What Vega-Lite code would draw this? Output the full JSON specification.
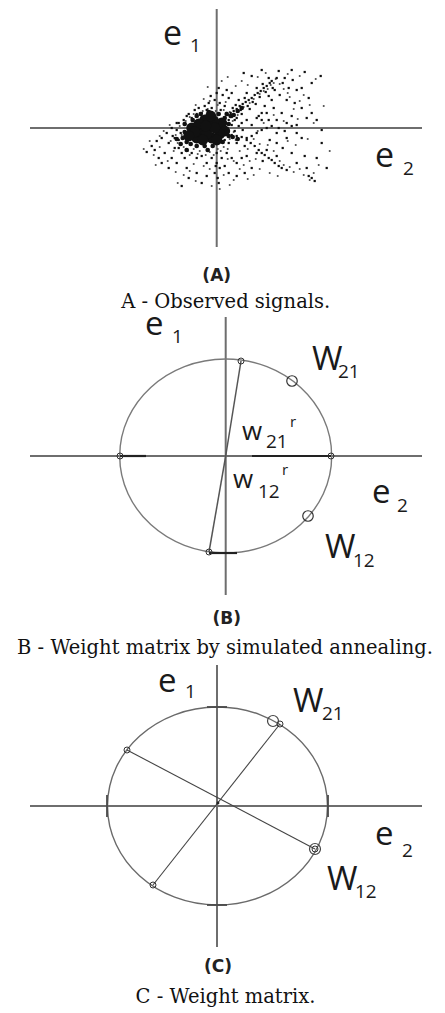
{
  "$schema": "https://vega.github.io/schema/vega-lite/v6.json",
  "padding": 0,
  "spacing": 0,
  "bounds": "flush",
  "config": {"view": {"stroke": null}, "concat": {"spacing": 0}},
  "resolve": {"scale": {"x": "independent", "y": "independent"}},
  "vconcat": [
    {
      "width": 445, "height": 320,
      "encoding": {
        "x": {"field": "u", "type": "quantitative", "scale": {"domain": [-2.167, 2.283], "nice": false, "zero": false}, "axis": null},
        "y": {"field": "v", "type": "quantitative", "scale": {"domain": [-1.92, 1.28], "nice": false, "zero": false}, "axis": null}
      },
      "layer": [
        {
          "data": {"values": [
            {"u": 0, "v": 1.19, "u2": 0, "v2": -1.19},
            {"u": -1.867, "v": 0, "u2": 2.053, "v2": 0}
          ]},
          "mark": {"type": "rule", "color": "#6e6e6e", "strokeWidth": 2},
          "encoding": {"x2": {"field": "u2"}, "y2": {"field": "v2"}}
        },
        {
          "data": {"values": [
            {"u": -0.37, "v": 0.02}, {"u": -0.41, "v": -0.07}, {"u": -0.46, "v": -0.13}, {"u": -0.33, "v": -0.19}, {"u": -0.29, "v": -0.23},
            {"u": -0.23, "v": -0.21}, {"u": -0.17, "v": -0.23}, {"u": -0.07, "v": -0.24}, {"u": 0.01, "v": -0.21}, {"u": 0.07, "v": -0.19},
            {"u": 0.13, "v": -0.11}, {"u": 0.17, "v": -0.04}, {"u": 0.16, "v": 0.07}, {"u": 0.13, "v": 0.16}, {"u": 0.07, "v": 0.18},
            {"u": -0.01, "v": 0.17}, {"u": -0.09, "v": 0.19}, {"u": -0.14, "v": 0.17}, {"u": -0.23, "v": 0.14}, {"u": -0.27, "v": 0.11},
            {"u": -0.31, "v": 0.07}, {"u": -0.35, "v": -0.07}, {"u": -0.39, "v": -0.15}, {"u": -0.43, "v": -0.23}, {"u": -0.27, "v": -0.27},
            {"u": -0.19, "v": -0.26}, {"u": -0.11, "v": -0.27}, {"u": -0.03, "v": -0.27}, {"u": 0.04, "v": -0.23}, {"u": 0.11, "v": -0.21},
            {"u": 0.19, "v": -0.12}, {"u": 0.21, "v": 0.13}, {"u": 0.09, "v": 0.26}, {"u": 0.01, "v": 0.23}, {"u": -0.07, "v": 0.27},
            {"u": -0.13, "v": 0.29}, {"u": -0.21, "v": 0.23}, {"u": 0.27, "v": 0.21}, {"u": 0.33, "v": 0.25}, {"u": 0.37, "v": 0.29},
            {"u": 0.43, "v": 0.34}, {"u": 0.47, "v": 0.37}, {"u": 0.51, "v": 0.39}, {"u": 0.54, "v": 0.43}, {"u": 0.57, "v": 0.45},
            {"u": 0.59, "v": 0.49}, {"u": 0.63, "v": 0.44}, {"u": 0.67, "v": 0.39}, {"u": 0.71, "v": 0.35}, {"u": 0.73, "v": 0.31},
            {"u": 0.77, "v": 0.19}, {"u": 0.83, "v": 0.27}, {"u": 0.87, "v": 0.33}, {"u": 0.93, "v": 0.23}, {"u": 0.97, "v": 0.05},
            {"u": 0.81, "v": 0.09}, {"u": 0.67, "v": 0.07}, {"u": 0.57, "v": 0.13}, {"u": 0.47, "v": 0.05}, {"u": 0.41, "v": -0.03},
            {"u": 0.37, "v": -0.11}, {"u": 0.43, "v": -0.16}, {"u": 0.51, "v": -0.17}, {"u": 0.57, "v": -0.23}, {"u": 0.63, "v": -0.33},
            {"u": 0.67, "v": -0.37}, {"u": 0.73, "v": -0.39}, {"u": 0.77, "v": -0.44}, {"u": 0.83, "v": -0.41}, {"u": 0.87, "v": -0.47},
            {"u": 0.93, "v": -0.52}, {"u": 0.97, "v": -0.45}, {"u": 1.02, "v": -0.37}, {"u": 0.79, "v": -0.17}, {"u": 0.71, "v": -0.13},
            {"u": 0.91, "v": -0.11}, {"u": 0.31, "v": -0.21}, {"u": 0.23, "v": -0.23}, {"u": 0.17, "v": -0.33}, {"u": 0.11, "v": -0.31},
            {"u": 0.27, "v": -0.37}, {"u": 0.33, "v": -0.33}, {"u": 0.39, "v": -0.31}, {"u": 0.43, "v": -0.41}, {"u": 0.37, "v": -0.47},
            {"u": 0.23, "v": -0.41}, {"u": 0.17, "v": -0.52}, {"u": 0.07, "v": -0.47}, {"u": -0.07, "v": -0.41}, {"u": -0.13, "v": -0.38},
            {"u": -0.23, "v": -0.36}, {"u": -0.27, "v": -0.43}, {"u": -0.33, "v": -0.47}, {"u": -0.41, "v": -0.44}, {"u": -0.49, "v": -0.33},
            {"u": -0.57, "v": -0.19}, {"u": -0.63, "v": -0.27}, {"u": -0.67, "v": -0.13}, {"u": -0.53, "v": -0.03}, {"u": -0.47, "v": 0.03},
            {"u": -0.57, "v": -0.08}, {"u": -0.73, "v": -0.21}, {"u": -0.61, "v": -0.37}, {"u": -0.39, "v": -0.55}, {"u": -0.21, "v": -0.53},
            {"u": -0.05, "v": -0.58}, {"u": 0.03, "v": -0.61}, {"u": 0.13, "v": -0.57}, {"u": 0.31, "v": -0.51}, {"u": -0.09, "v": 0.41},
            {"u": 0.05, "v": 0.47}, {"u": 0.19, "v": 0.42}, {"u": 0.25, "v": 0.47}, {"u": 0.11, "v": 0.51}, {"u": 0.31, "v": 0.43},
            {"u": 0.41, "v": 0.51}, {"u": 0.49, "v": 0.55}, {"u": 0.71, "v": 0.54}, {"u": 0.83, "v": 0.52}, {"u": 0.99, "v": 0.49},
            {"u": 1.07, "v": 0.22}, {"u": 1.13, "v": -0.23}, {"u": 0.53, "v": -0.45}, {"u": 0.61, "v": -0.48}
          ]},
          "mark": {"type": "point", "shape": "square", "filled": true, "size": 3, "color": "#444", "opacity": 1}
        },
        {
          "data": {"values": [
            {"u": 0.08, "v": 0.10}, {"u": 0.11, "v": 0.13}, {"u": 0.14, "v": 0.15}, {"u": 0.17, "v": 0.17}, {"u": 0.20, "v": 0.19},
            {"u": 0.23, "v": 0.22}, {"u": 0.26, "v": 0.24}, {"u": 0.29, "v": 0.26}, {"u": 0.32, "v": 0.28}, {"u": 0.35, "v": 0.30},
            {"u": 0.38, "v": 0.33}, {"u": 0.41, "v": 0.35}, {"u": 0.44, "v": 0.37}, {"u": 0.47, "v": 0.40}, {"u": 0.50, "v": 0.42},
            {"u": 0.53, "v": 0.45}, {"u": 0.55, "v": 0.47}, {"u": 0.10, "v": 0.15}, {"u": 0.15, "v": 0.11}, {"u": 0.19, "v": 0.23},
            {"u": 0.24, "v": 0.18}, {"u": 0.28, "v": 0.30}, {"u": 0.31, "v": 0.22}, {"u": 0.36, "v": 0.26}, {"u": 0.40, "v": 0.40},
            {"u": 0.43, "v": 0.31}, {"u": 0.46, "v": 0.44}, {"u": 0.49, "v": 0.36}, {"u": 0.52, "v": 0.50}, {"u": 0.56, "v": 0.40},
            {"u": 0.30, "v": 0.35}, {"u": 0.22, "v": 0.28}, {"u": 0.18, "v": 0.08}, {"u": 0.25, "v": 0.14}, {"u": 0.33, "v": 0.19},
            {"u": 0.39, "v": 0.24}, {"u": 0.27, "v": 0.55}, {"u": 0.35, "v": 0.52}, {"u": 0.45, "v": 0.58}, {"u": 0.62, "v": 0.57},
            {"u": 0.75, "v": 0.58}, {"u": 0.88, "v": 0.56}, {"u": 1.04, "v": 0.52}, {"u": 0.60, "v": 0.50}, {"u": 0.66, "v": 0.45},
            {"u": 0.72, "v": 0.40}, {"u": 0.80, "v": 0.38}, {"u": 0.63, "v": 0.33}, {"u": 0.70, "v": 0.28}, {"u": 0.78, "v": 0.25},
            {"u": 0.85, "v": 0.20}, {"u": 0.90, "v": 0.10}, {"u": 0.95, "v": 0.15}, {"u": 0.57, "v": 0.20}, {"u": 0.50, "v": 0.15},
            {"u": 0.45, "v": 0.08}, {"u": 0.60, "v": 0.08}, {"u": 0.70, "v": 0.05}, {"u": 0.80, "v": 0.03}, {"u": 1.00, "v": 0.08},
            {"u": 1.05, "v": -0.02}, {"u": 0.92, "v": 0.30}, {"u": 0.55, "v": 0.28}, {"u": 0.48, "v": 0.22}, {"u": 0.42, "v": 0.12},
            {"u": 0.65, "v": 0.15}, {"u": 0.75, "v": 0.12}, {"u": 0.85, "v": 0.40}, {"u": 0.95, "v": 0.45}, {"u": 0.68, "v": 0.50},
            {"u": 0.76, "v": 0.48}, {"u": 0.58, "v": 0.38}, {"u": 0.52, "v": 0.32}, {"u": -0.05, "v": 0.20}, {"u": -0.02, "v": 0.28},
            {"u": 0.00, "v": 0.35}, {"u": 0.03, "v": 0.25}, {"u": -0.10, "v": 0.18}, {"u": -0.15, "v": 0.15}, {"u": -0.20, "v": 0.14},
            {"u": -0.08, "v": 0.25}, {"u": 0.02, "v": 0.40}, {"u": 0.06, "v": 0.33}, {"u": -0.03, "v": 0.12}, {"u": -0.12, "v": 0.22},
            {"u": -0.25, "v": 0.10}, {"u": -0.18, "v": 0.20}, {"u": 0.04, "v": 0.18}, {"u": 0.08, "v": 0.22}, {"u": 0.12, "v": 0.30},
            {"u": 0.10, "v": 0.38}, {"u": 0.15, "v": 0.35}, {"u": -0.06, "v": 0.32}, {"u": -0.40, "v": 0.05}, {"u": -0.45, "v": 0.00},
            {"u": -0.50, "v": -0.05}, {"u": -0.55, "v": -0.10}, {"u": -0.60, "v": -0.13}, {"u": -0.65, "v": -0.18}, {"u": -0.48, "v": -0.15},
            {"u": -0.38, "v": -0.12}, {"u": -0.42, "v": -0.20}, {"u": -0.35, "v": -0.25}, {"u": -0.52, "v": -0.25}, {"u": -0.58, "v": -0.30},
            {"u": -0.45, "v": -0.30}, {"u": -0.38, "v": 0.05}, {"u": -0.33, "v": 0.08}, {"u": -0.30, "v": 0.12}, {"u": -0.36, "v": -0.05},
            {"u": -0.44, "v": -0.08}, {"u": -0.62, "v": -0.22}, {"u": -0.70, "v": -0.24}, {"u": -0.55, "v": -0.35}, {"u": -0.48, "v": -0.40},
            {"u": -0.40, "v": -0.35}, {"u": -0.32, "v": -0.30}, {"u": -0.30, "v": -0.40}, {"u": -0.25, "v": -0.25}, {"u": -0.20, "v": -0.30},
            {"u": -0.15, "v": -0.28}, {"u": -0.10, "v": -0.35}, {"u": -0.05, "v": -0.30}, {"u": 0.00, "v": -0.25}, {"u": 0.03, "v": -0.40},
            {"u": -0.02, "v": -0.45}, {"u": 0.02, "v": -0.55}, {"u": 0.05, "v": -0.30}, {"u": 0.10, "v": -0.25}, {"u": 0.15, "v": -0.30},
            {"u": 0.20, "v": -0.35}, {"u": 0.25, "v": -0.30}, {"u": 0.30, "v": -0.28}, {"u": 0.35, "v": -0.40}, {"u": -0.10, "v": -0.48},
            {"u": -0.20, "v": -0.45}, {"u": -0.28, "v": -0.50}, {"u": -0.35, "v": -0.58}, {"u": 0.12, "v": -0.45}, {"u": 0.20, "v": -0.48},
            {"u": 0.28, "v": -0.45}, {"u": -0.15, "v": -0.55}, {"u": 0.00, "v": -0.35}, {"u": 0.01, "v": -0.50}, {"u": -0.01, "v": -0.38},
            {"u": 0.08, "v": -0.38}, {"u": 0.30, "v": -0.12}, {"u": 0.34, "v": -0.15}, {"u": 0.38, "v": -0.18}, {"u": 0.42, "v": -0.22},
            {"u": 0.45, "v": -0.25}, {"u": 0.48, "v": -0.27}, {"u": 0.52, "v": -0.30}, {"u": 0.55, "v": -0.32}, {"u": 0.58, "v": -0.35},
            {"u": 0.62, "v": -0.38}, {"u": 0.65, "v": -0.40}, {"u": 0.70, "v": -0.42}, {"u": 0.40, "v": -0.25}, {"u": 0.50, "v": -0.22},
            {"u": 0.60, "v": -0.28}, {"u": 0.46, "v": -0.33}, {"u": 0.95, "v": -0.50}, {"u": 0.98, "v": -0.53}, {"u": 0.92, "v": -0.48},
            {"u": 0.80, "v": -0.35}, {"u": 0.75, "v": -0.25}, {"u": 0.88, "v": -0.28}, {"u": 1.05, "v": -0.15}, {"u": 0.85, "v": -0.10},
            {"u": 0.70, "v": -0.10}, {"u": 0.60, "v": -0.05}, {"u": 1.00, "v": -0.30}, {"u": 1.10, "v": -0.40}, {"u": 0.90, "v": -0.40},
            {"u": 0.05, "v": -0.05}, {"u": 0.10, "v": -0.06}, {"u": 0.15, "v": -0.07}, {"u": 0.20, "v": -0.08}, {"u": 0.25, "v": -0.09},
            {"u": 0.30, "v": -0.10}, {"u": 0.35, "v": -0.08}, {"u": 0.40, "v": -0.05}, {"u": 0.45, "v": -0.02}, {"u": 0.50, "v": 0.00},
            {"u": 0.55, "v": 0.02}, {"u": 0.35, "v": 0.03}, {"u": 0.25, "v": 0.05}, {"u": 0.15, "v": 0.03}, {"u": 0.20, "v": -0.15},
            {"u": 0.28, "v": -0.18}, {"u": 0.12, "v": -0.15}, {"u": 0.08, "v": -0.12}, {"u": 0.40, "v": 0.10}, {"u": 0.30, "v": 0.08},
            {"u": 0.45, "v": 0.15}, {"u": 0.20, "v": 0.10}, {"u": 0.52, "v": 0.08}, {"u": 0.62, "v": 0.00}, {"u": 0.68, "v": -0.03},
            {"u": 0.75, "v": 0.02}, {"u": 0.80, "v": -0.05}, {"u": 0.60, "v": -0.15}, {"u": 0.53, "v": -0.12}, {"u": 0.66, "v": -0.20},
            {"u": 0.22, "v": 0.02}, {"u": 0.18, "v": -0.03}, {"u": 0.26, "v": -0.02}, {"u": 0.12, "v": 0.08}, {"u": 0.16, "v": 0.20},
            {"u": -0.40, "v": -0.02}, {"u": -0.42, "v": -0.10}, {"u": -0.38, "v": -0.20}, {"u": -0.28, "v": 0.14}, {"u": -0.22, "v": 0.18}
          ]},
          "mark": {"type": "point", "shape": "square", "filled": true, "size": 5, "color": "#111", "opacity": 1}
        },
        {
          "data": {"values": [
            {"u": -0.32, "v": -0.04}, {"u": -0.30, "v": -0.14}, {"u": -0.26, "v": -0.16}, {"u": -0.32, "v": 0.04}, {"u": -0.20, "v": 0.12},
            {"u": -0.16, "v": 0.14}, {"u": -0.08, "v": 0.16}, {"u": 0.02, "v": 0.14}, {"u": 0.08, "v": 0.10}, {"u": 0.12, "v": 0.04},
            {"u": 0.12, "v": -0.08}, {"u": 0.06, "v": -0.14}, {"u": -0.04, "v": -0.18}, {"u": -0.12, "v": -0.18}, {"u": -0.20, "v": -0.18},
            {"u": -0.34, "v": -0.10}, {"u": 0.10, "v": 0.14}, {"u": 0.14, "v": 0.12}, {"u": -0.36, "v": -0.16}, {"u": -0.24, "v": 0.08},
            {"u": 0.17, "v": 0.13}, {"u": 0.21, "v": 0.17}, {"u": 0.25, "v": 0.20}, {"u": 0.16, "v": -0.09}, {"u": 0.21, "v": -0.11},
            {"u": -0.40, "v": -0.11}, {"u": -0.30, "v": -0.22}, {"u": -0.09, "v": -0.22}
          ]},
          "mark": {"type": "point", "shape": "circle", "filled": true, "size": 22, "color": "#111", "opacity": 1}
        },
        {
          "data": {"values": [
            {"u": -0.08, "v": 0.00}, {"u": -0.15, "v": -0.05}, {"u": 0.00, "v": 0.02}, {"u": -0.20, "v": -0.10}, {"u": -0.05, "v": -0.10},
            {"u": -0.25, "v": 0.00}, {"u": 0.05, "v": 0.05}, {"u": -0.12, "v": 0.08}, {"u": 0.08, "v": -0.03}, {"u": -0.03, "v": 0.07},
            {"u": -0.18, "v": 0.04}, {"u": -0.10, "v": -0.06}, {"u": -0.22, "v": -0.04}, {"u": 0.03, "v": -0.06}, {"u": -0.14, "v": -0.12},
            {"u": -0.06, "v": 0.12}, {"u": -0.28, "v": -0.08}, {"u": 0.00, "v": -0.12}, {"u": -0.02, "v": 0.00}, {"u": -0.11, "v": 0.02}
          ]},
          "mark": {"type": "point", "shape": "circle", "filled": true, "size": 120, "color": "#111", "opacity": 1}
        },
        {
          "data": {"values": [{"u": -0.537, "v": 0.83, "t": "e"}, {"u": 1.583, "v": -0.39, "t": "e"}]},
          "mark": {"type": "text", "font": "Open Sans", "fontSize": 34, "align": "left", "baseline": "alphabetic", "color": "#1a1a1a"},
          "encoding": {"text": {"field": "t"}}
        },
        {
          "data": {"values": [{"u": -0.267, "v": 0.76, "t": "1"}, {"u": 1.863, "v": -0.47, "t": "2"}]},
          "mark": {"type": "text", "font": "Open Sans", "fontSize": 19, "align": "left", "baseline": "alphabetic", "color": "#1a1a1a"},
          "encoding": {"text": {"field": "t"}}
        },
        {
          "data": {"values": [{"u": 0.0, "v": -1.53, "t": "(A)"}]},
          "mark": {"type": "text", "font": "DejaVu Sans", "fontSize": 17, "fontWeight": "bold", "align": "center", "baseline": "alphabetic", "color": "#222"},
          "encoding": {"text": {"field": "t"}}
        },
        {
          "data": {"values": [{"u": 0.09, "v": -1.80, "t": "A - Observed signals."}]},
          "mark": {"type": "text", "font": "DejaVu Serif", "fontSize": 19.5, "align": "center", "baseline": "alphabetic", "color": "#111"},
          "encoding": {"text": {"field": "t"}}
        }
      ]
    },
    {
      "width": 445, "height": 340,
      "encoding": {
        "x": {"field": "u", "type": "quantitative", "scale": {"domain": [-2.257, 2.193], "nice": false, "zero": false}, "axis": null},
        "y": {"field": "v", "type": "quantitative", "scale": {"domain": [-2.04, 1.36], "nice": false, "zero": false}, "axis": null}
      },
      "layer": [
        {
          "data": {"values": [
            {"u": 0, "v": 1.39, "u2": 0, "v2": -1.39},
            {"u": -1.957, "v": 0, "u2": 1.963, "v2": 0}
          ]},
          "mark": {"type": "rule", "color": "#6e6e6e", "strokeWidth": 2},
          "encoding": {"x2": {"field": "u2"}, "y2": {"field": "v2"}}
        },
        {
          "data": {"values": [{"u": 0, "v": 0}]},
          "mark": {"type": "point", "shape": "M-1,0A1,0.915,0,1,1,1,0A1,0.915,0,1,1,-1,0Z", "size": 44944, "filled": false, "stroke": "#7a7a7a", "strokeWidth": 1.4, "opacity": 1}
        },
        {
          "data": {"values": [
            {"u": 0, "v": 0, "u2": 0.153, "v2": 0.95},
            {"u": 0, "v": 0, "u2": -0.167, "v2": -0.96}
          ]},
          "mark": {"type": "rule", "color": "#555", "strokeWidth": 1.5},
          "encoding": {"x2": {"field": "u2"}, "y2": {"field": "v2"}}
        },
        {
          "data": {"values": [
            {"u": -1.057, "v": 0, "u2": -0.797, "v2": 0},
            {"u": 0.263, "v": 0, "u2": 1.053, "v2": 0},
            {"u": -0.167, "v": -0.97, "u2": 0.113, "v2": -0.97}
          ]},
          "mark": {"type": "rule", "color": "#222", "strokeWidth": 2.2},
          "encoding": {"x2": {"field": "u2"}, "y2": {"field": "v2"}}
        },
        {
          "data": {"values": [{"u": 0.153, "v": 0.95}, {"u": -1.057, "v": 0}, {"u": 1.053, "v": 0}, {"u": -0.167, "v": -0.96}]},
          "mark": {"type": "point", "shape": "circle", "size": 36, "filled": false, "stroke": "#333", "strokeWidth": 1, "opacity": 1}
        },
        {
          "data": {"values": [{"u": 0.663, "v": 0.75}, {"u": 0.823, "v": -0.60}]},
          "mark": {"type": "point", "shape": "circle", "size": 110, "filled": false, "stroke": "#333", "strokeWidth": 1.2, "opacity": 1}
        },
        {
          "data": {"values": [
            {"u": -0.807, "v": 1.21, "t": "e"}, {"u": 0.863, "v": 0.86, "t": "W"},
            {"u": 1.463, "v": -0.47, "t": "e"}, {"u": 0.993, "v": -1.02, "t": "W"}
          ]},
          "mark": {"type": "text", "font": "Open Sans", "fontSize": 33, "align": "left", "baseline": "alphabetic", "color": "#1a1a1a"},
          "encoding": {"text": {"field": "t"}}
        },
        {
          "data": {"values": [{"u": 0.163, "v": 0.16, "t": "w"}, {"u": 0.073, "v": -0.32, "t": "w"}]},
          "mark": {"type": "text", "font": "Open Sans", "fontSize": 26, "align": "left", "baseline": "alphabetic", "color": "#1a1a1a"},
          "encoding": {"text": {"field": "t"}}
        },
        {
          "data": {"values": [
            {"u": -0.537, "v": 1.13, "t": "1"}, {"u": 1.123, "v": 0.78, "t": "21"},
            {"u": 1.713, "v": -0.56, "t": "2"}, {"u": 1.273, "v": -1.11, "t": "12"},
            {"u": 0.403, "v": 0.08, "t": "21"}, {"u": 0.323, "v": -0.42, "t": "12"}
          ]},
          "mark": {"type": "text", "font": "Open Sans", "fontSize": 19, "align": "left", "baseline": "alphabetic", "color": "#1a1a1a"},
          "encoding": {"text": {"field": "t"}}
        },
        {
          "data": {"values": [{"u": 0.643, "v": 0.29, "t": "r"}, {"u": 0.563, "v": -0.19, "t": "r"}]},
          "mark": {"type": "text", "font": "Open Sans", "fontSize": 15, "align": "left", "baseline": "alphabetic", "color": "#1a1a1a"},
          "encoding": {"text": {"field": "t"}}
        },
        {
          "data": {"values": [{"u": 0.01, "v": -1.68, "t": "(B)"}]},
          "mark": {"type": "text", "font": "DejaVu Sans", "fontSize": 17, "fontWeight": "bold", "align": "center", "baseline": "alphabetic", "color": "#222"},
          "encoding": {"text": {"field": "t"}}
        },
        {
          "data": {"values": [{"u": -0.007, "v": -1.98, "t": "B - Weight matrix by simulated annealing."}]},
          "mark": {"type": "text", "font": "DejaVu Serif", "fontSize": 19.5, "align": "center", "baseline": "alphabetic", "color": "#111"},
          "encoding": {"text": {"field": "t"}}
        }
      ]
    },
    {
      "width": 445, "height": 353,
      "encoding": {
        "x": {"field": "u", "type": "quantitative", "scale": {"domain": [-2.17, 2.28], "nice": false, "zero": false}, "axis": null},
        "y": {"field": "v", "type": "quantitative", "scale": {"domain": [-2.07, 1.46], "nice": false, "zero": false}, "axis": null}
      },
      "layer": [
        {
          "data": {"values": [
            {"u": 0, "v": 1.41, "u2": 0, "v2": -1.41},
            {"u": -1.87, "v": 0, "u2": 2.05, "v2": 0}
          ]},
          "mark": {"type": "rule", "color": "#6e6e6e", "strokeWidth": 2},
          "encoding": {"x2": {"field": "u2"}, "y2": {"field": "v2"}}
        },
        {
          "data": {"values": [{"u": 0.005, "v": 0}]},
          "mark": {"type": "point", "shape": "M-1,0A1,0.9,0,1,1,1,0A1,0.9,0,1,1,-1,0Z", "size": 48400, "filled": false, "stroke": "#6a6a6a", "strokeWidth": 1.4, "opacity": 1}
        },
        {
          "data": {"values": [
            {"u": -0.10, "v": 0.99, "u2": 0.10, "v2": 0.99},
            {"u": -0.10, "v": -0.99, "u2": 0.10, "v2": -0.99},
            {"u": -1.10, "v": 0.11, "u2": -1.10, "v2": -0.11},
            {"u": 1.11, "v": 0.11, "u2": 1.11, "v2": -0.11}
          ]},
          "mark": {"type": "rule", "color": "#4a4a4a", "strokeWidth": 1.8},
          "encoding": {"x2": {"field": "u2"}, "y2": {"field": "v2"}}
        },
        {
          "data": {"values": [
            {"u": -0.90, "v": 0.56, "u2": 0.98, "v2": -0.43},
            {"u": 0.63, "v": 0.82, "u2": -0.64, "v2": -0.79}
          ]},
          "mark": {"type": "rule", "color": "#444", "strokeWidth": 1.1},
          "encoding": {"x2": {"field": "u2"}, "y2": {"field": "v2"}}
        },
        {
          "data": {"values": [{"u": 0.01, "v": 0.03}]},
          "mark": {"type": "point", "shape": "circle", "size": 8, "filled": true, "color": "#222", "opacity": 1}
        },
        {
          "data": {"values": [{"u": -0.90, "v": 0.56}, {"u": 0.63, "v": 0.82}, {"u": -0.64, "v": -0.79}, {"u": 0.98, "v": -0.43}]},
          "mark": {"type": "point", "shape": "circle", "size": 36, "filled": false, "stroke": "#333", "strokeWidth": 1, "opacity": 1}
        },
        {
          "data": {"values": [{"u": 0.56, "v": 0.85}, {"u": 0.98, "v": -0.43}]},
          "mark": {"type": "point", "shape": "circle", "size": 120, "filled": false, "stroke": "#444", "strokeWidth": 1.2, "opacity": 1}
        },
        {
          "data": {"values": [
            {"u": -0.59, "v": 1.14, "t": "e"}, {"u": 0.76, "v": 0.94, "t": "W"},
            {"u": 1.58, "v": -0.39, "t": "e"}, {"u": 1.10, "v": -0.84, "t": "W"}
          ]},
          "mark": {"type": "text", "font": "Open Sans", "fontSize": 33, "align": "left", "baseline": "alphabetic", "color": "#1a1a1a"},
          "encoding": {"text": {"field": "t"}}
        },
        {
          "data": {"values": [
            {"u": -0.32, "v": 1.08, "t": "1"}, {"u": 1.05, "v": 0.86, "t": "21"},
            {"u": 1.85, "v": -0.51, "t": "2"}, {"u": 1.38, "v": -0.92, "t": "12"}
          ]},
          "mark": {"type": "text", "font": "Open Sans", "fontSize": 19, "align": "left", "baseline": "alphabetic", "color": "#1a1a1a"},
          "encoding": {"text": {"field": "t"}}
        },
        {
          "data": {"values": [{"u": 0.01, "v": -1.66, "t": "(C)"}]},
          "mark": {"type": "text", "font": "DejaVu Sans", "fontSize": 17, "fontWeight": "bold", "align": "center", "baseline": "alphabetic", "color": "#222"},
          "encoding": {"text": {"field": "t"}}
        },
        {
          "data": {"values": [{"u": 0.085, "v": -1.97, "t": "C - Weight matrix."}]},
          "mark": {"type": "text", "font": "DejaVu Serif", "fontSize": 19.5, "align": "center", "baseline": "alphabetic", "color": "#111"},
          "encoding": {"text": {"field": "t"}}
        }
      ]
    }
  ]
}
